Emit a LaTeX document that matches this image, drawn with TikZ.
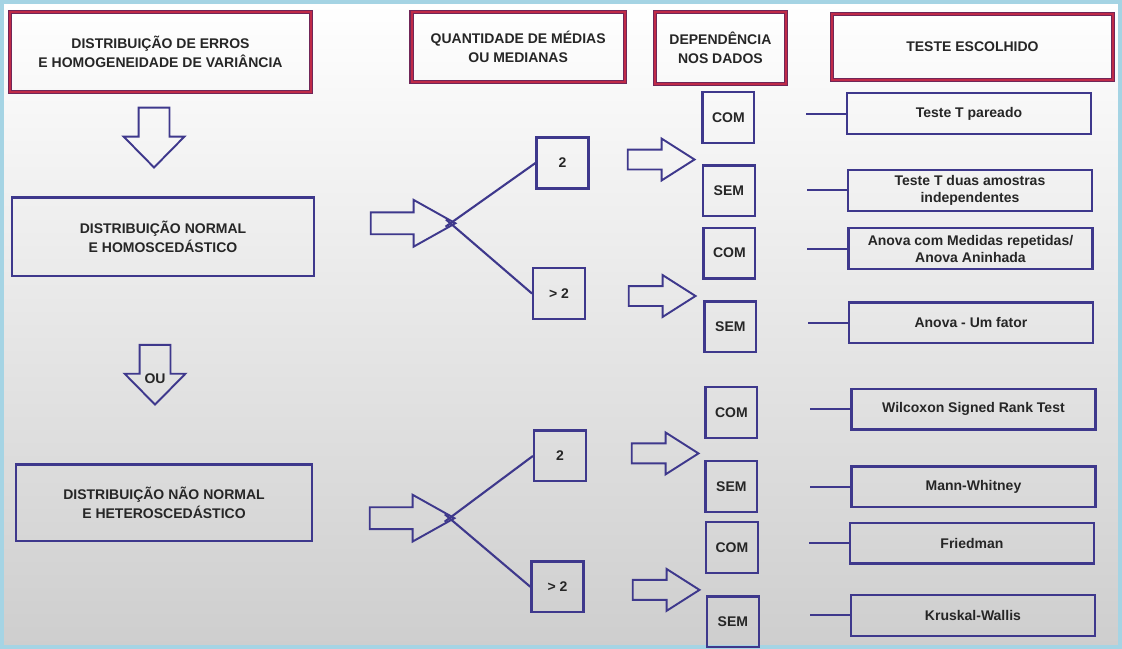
\documentclass[tikz,border=0pt]{standalone}
\usepackage{fontspec}
\setmainfont{Liberation Sans}
\definecolor{navy}{RGB}{62,56,140}
\definecolor{hdrred}{RGB}{192,42,72}
\definecolor{hdrdark}{RGB}{112,38,88}
\definecolor{txtgray}{RGB}{38,38,38}
\definecolor{bgmid}{RGB}{247,247,247}
\definecolor{bgbot}{RGB}{206,206,206}
\definecolor{framecol}{RGB}{165,212,228}
\tikzset{hdr node/.style={rectangle,draw=hdrred,line width=1.2pt,preaction={draw=hdrdark,line width=2.4pt},align=center,text=txtgray,font=\bfseries\fontsize{8}{10.8}\selectfont},
	dist node/.style={rectangle,draw=navy,line width=1.3pt,align=center,text=txtgray,font=\bfseries\fontsize{8}{10.8}\selectfont},
	qtd node/.style={rectangle,draw=navy,line width=1.3pt,minimum width=1.04cm,minimum height=1.02cm,inner sep=0pt,text=txtgray,font=\bfseries\fontsize{8}{10}\selectfont},
	dep node/.style={qtd node},
	test node/.style={rectangle,draw=navy,line width=1.3pt,minimum width=4.9cm,minimum height=0.82cm,inner sep=1pt,align=center,text=txtgray,font=\bfseries\fontsize{8}{9.6}\selectfont},
	conn/.style={draw=navy,line width=1.2pt},
	block arrow/.style={draw=navy,line width=1.1pt,line join=miter},
	bigarrow/.pic={\draw[block arrow] (0,-11) -- (43,-11) -- (43,-23.5) -- (85,0) -- (43,23.5) -- (43,11) -- (0,11) -- cycle;
		\coordinate (-fork) at (80,0);},
	smallarrow/.pic={\draw[block arrow] (0,-10) -- (34,-10) -- (34,-21) -- (67,0) -- (34,21) -- (34,10) -- (0,10) -- cycle;},
	downarrow/.pic={\draw[block arrow] (-15.5,0) -- (15.5,0) -- (15.5,29) -- (30.5,29) -- (0,60) -- (-30.5,29) -- (-15.5,29) -- cycle;},
}
\begin{document}
\begin{tikzpicture}[x=0.02cm,y=-0.02cm]
	% fundo
	\shade[top color=white,middle color=bgmid,bottom color=bgbot] (0,0) rectangle (1122,647);
	\draw[framecol,line width=2.4pt] (0,0) rectangle (1122,647);
	\useasboundingbox (0,0) rectangle (1122,647);
	
	% cabecalhos
	\node[hdr node,minimum width=6.04cm,minimum height=1.6cm] (hdist) at (159,50) {DISTRIBUIÇÃO DE ERROS\\E HOMOGENEIDADE DE VARIÂNCIA};
	\node[hdr node,minimum width=4.28cm,minimum height=1.4cm] (hqtd) at (518,45) {QUANTIDADE DE MÉDIAS\\OU MEDIANAS};
	\node[hdr node,minimum width=2.64cm,minimum height=1.44cm] (hdep) at (721,46) {DEPENDÊNCIA\\NOS DADOS};
	\node[hdr node,minimum width=5.64cm,minimum height=1.32cm] (hteste) at (974,45) {TESTE ESCOLHIDO};
	
	% distribuicoes
	\node[dist node,minimum width=6.06cm,minimum height=1.58cm] (normal) at (161.5,235.5) {DISTRIBUIÇÃO NORMAL\\E HOMOSCEDÁSTICO};
	\node[dist node,minimum width=5.94cm,minimum height=1.54cm] (naonormal) at (162.5,502.5) {DISTRIBUIÇÃO NÃO NORMAL\\E HETEROSCEDÁSTICO};
	\pic at (152.5,106) {downarrow};
	\pic at (153.5,344) {downarrow};
	\node[text=txtgray,font=\bfseries\fontsize{8}{10}\selectfont] (ou) at (153.5,378) {OU};
	
	% quantidade de medias
	\node[qtd node] (q2a) at (562.5,161.5) {2};
	\node[qtd node] (qmaisa) at (559,292.5) {> 2};
	\node[qtd node] (q2b) at (560,455.5) {2};
	\node[qtd node] (qmaisb) at (557.5,587) {> 2};
	\pic (big1) at (370,222) {bigarrow};
	\pic (big2) at (369,518) {bigarrow};
	\path[conn,shorten <=-0.12cm]
	(big1-fork) edge (q2a.west)
	(big1-fork) edge (qmaisa.west)
	(big2-fork) edge (q2b.west)
	(big2-fork) edge (qmaisb.west);
	
	% dependencia
	\node[dep node] (com1) at (729,116) {COM};
	\node[dep node] (sem1) at (729.5,189.5) {SEM};
	\node[dep node] (com2) at (730,252) {COM};
	\node[dep node] (sem2) at (731,326) {SEM};
	\node[dep node] (com3) at (732,412) {COM};
	\node[dep node] (sem3) at (732,486) {SEM};
	\node[dep node] (com4) at (732.5,547.5) {COM};
	\node[dep node] (sem4) at (733.5,622) {SEM};
	\pic at (628,158) {smallarrow};
	\pic at (629,295) {smallarrow};
	\pic at (632,453) {smallarrow};
	\pic at (633,590) {smallarrow};
	
	% testes
	\node[test node] (t1) at (970.5,112) {Teste T pareado};
	\node[test node] (t2) at (971.5,189) {Teste T duas amostras\\independentes};
	\node[test node] (t3) at (972,247.5) {Anova com Medidas repetidas/\\Anova Aninhada};
	\node[test node] (t4) at (972.5,322) {Anova - Um fator};
	\node[test node] (t5) at (975,408.5) {Wilcoxon Signed Rank Test};
	\node[test node] (t6) at (975,486.5) {Mann-Whitney};
	\node[test node] (t7) at (973.5,543) {Friedman};
	\node[test node] (t8) at (974.5,615.5) {Kruskal-Wallis};
	\foreach \t in {t1,t2,t3,t4,t5,t6,t7,t8}
	\draw[conn] (\t.west) -- ++(-40,0);
\end{tikzpicture}
\end{document}
